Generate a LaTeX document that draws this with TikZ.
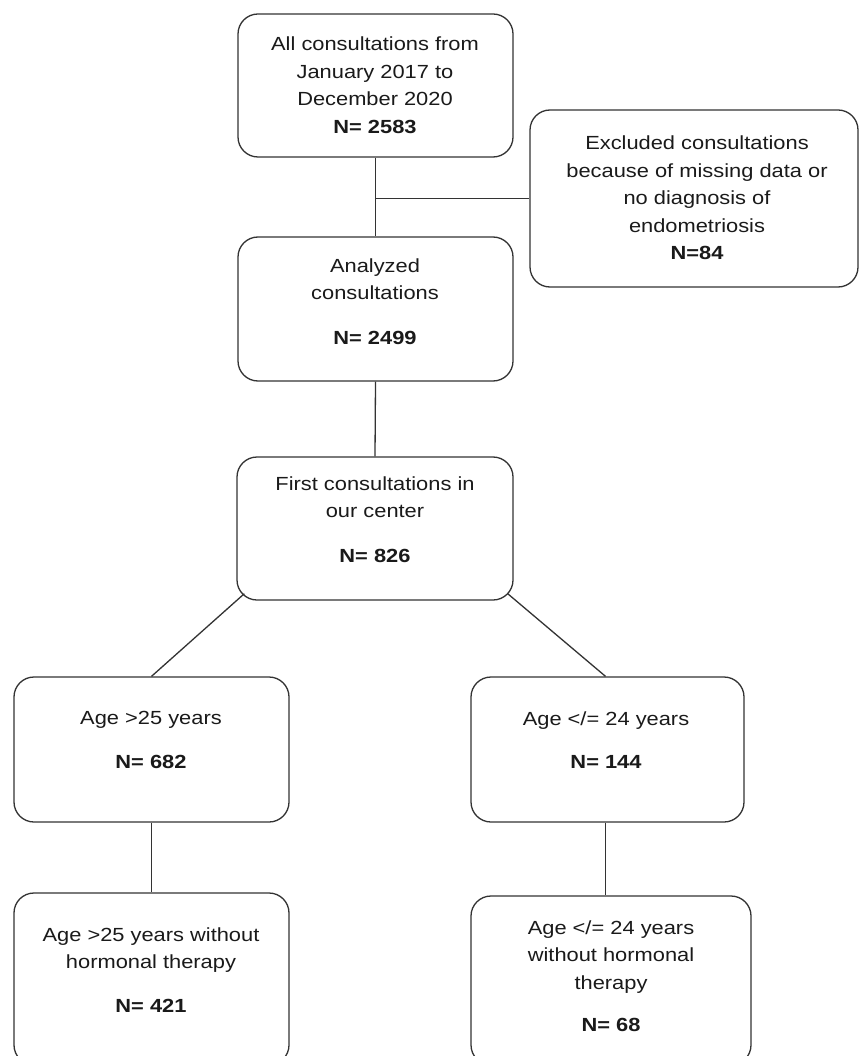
\documentclass[tikz,border=0pt]{standalone}
\usepackage{fontspec}
\setmainfont{Liberation Sans}[FakeStretch=1.15]
\usetikzlibrary{calc}
\definecolor{linec}{HTML}{333333}
\definecolor{textc}{HTML}{1A1A1A}
\tikzset{
  box/.style={draw=linec, line width=1.3pt, rounded corners=20pt, rectangle, inner sep=0pt},
  txt/.style={align=center, inner sep=0pt, text=textc, font=\fontsize{19}{27.5}\selectfont},
  conn/.style={draw=linec, line width=1.3pt}
}
\begin{document}
\begin{tikzpicture}[x=1pt,y=-1pt]
\clip (0,0) rectangle (860,1056);
\fill[white] (0,0) rectangle (860,1056);
% boxes
\node[box, minimum width=275pt, minimum height=143pt] (b1) at (375.5,85.5) {};
\node[box, minimum width=328pt, minimum height=177pt] (excl) at (694,198.5) {};
\node[box, minimum width=275pt, minimum height=144pt] (b2) at (375.5,309) {};
\node[box, minimum width=276pt, minimum height=143pt] (b3) at (375,528.5) {};
\node[box, minimum width=275pt, minimum height=145pt] (b4) at (151.5,749.5) {};
\node[box, minimum width=273pt, minimum height=145pt] (b5) at (607.5,749.5) {};
\node[box, minimum width=275pt, minimum height=172pt] (b6) at (151.5,979) {};
\node[box, minimum width=280pt, minimum height=169pt] (b7) at (611,980.5) {};
% texts
\node[txt] (t1) at (375,85) {All consultations from\\January 2017 to\\December 2020\\\textbf{N= 2583}};
\node[txt] (te) at (697,198) {Excluded consultations\\because of missing data or\\no diagnosis of\\endometriosis\\\textbf{N=84}};
\node[txt] (t2) at (375,301.5) {Analyzed\\consultations\\[17pt]\textbf{N= 2499}};
\node[txt] (t3) at (375,519.5) {First consultations in\\our center\\[17pt]\textbf{N= 826}};
\node[txt] (t4) at (151,740) {Age >25 years\\[16pt]\textbf{N= 682}};
\node[txt] (t5) at (606,740) {Age </= 24 years\\[16pt]\textbf{N= 144}};
\node[txt] (t6) at (151,970) {Age >25 years without\\hormonal therapy\\[16pt]\textbf{N= 421}};
\node[txt] (t7) at (611,976) {Age </= 24 years\\without hormonal\\therapy\\[15pt]\textbf{N= 68}};
% connectors
\draw[conn] (b1.south) -- (b2.north);
\coordinate (m) at (b1.south |- excl.west);
\draw[conn] (m) -- (excl.west);
\draw[conn] (b2.south) -- (b3.north);
\draw[conn] ([xshift=8pt,yshift=7pt]b3.south west) -- (b4.north);
\draw[conn] ([xshift=-6pt,yshift=7pt]b3.south east) -- ([xshift=-2pt]b5.north);
\draw[conn] (b4.south) -- (b4.south |- b6.north);
\draw[conn] ([xshift=-2pt]b5.south) -- ([xshift=-2pt]b5.south |- b7.north);
\end{tikzpicture}
\end{document}
